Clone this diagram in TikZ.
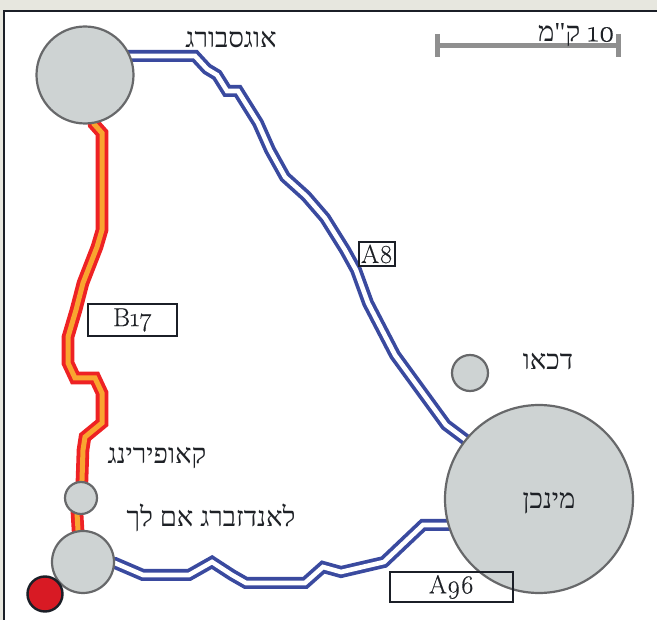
\documentclass[tikz,border=0pt]{standalone}
\usepackage{fontspec}
\setmainfont[Numbers=OldStyle,FakeBold=0.25]{Latin Modern Roman}
\newfontfamily\lat[Numbers=OldStyle,FakeBold=0.25]{Latin Modern Roman}
\newfontfamily\heb[Script=Hebrew]{Liberation Serif}
\TeXXeTstate=1
\definecolor{beige}{HTML}{E7E7DF}
\definecolor{framec}{HTML}{1B1F27}
\definecolor{city}{HTML}{CED3D3}
\definecolor{cityline}{HTML}{67686A}
\definecolor{roadblue}{HTML}{3A4A9F}
\definecolor{roadred}{HTML}{EE2224}
\definecolor{roadorange}{HTML}{F9A530}
\definecolor{barg}{HTML}{8F8F8F}
\definecolor{txt}{HTML}{1E2126}
\definecolor{mark}{HTML}{D81A24}
\tikzset{
  citynode/.style={circle,draw=cityline,fill=city,line width=2.2pt,inner sep=0pt,minimum size=#1},
  autobahn/.style={draw=roadblue,line width=3.7pt,double=white,double distance=4.6pt,line join=miter},
  bundes/.style={draw=roadred,line width=3.8pt,double=roadorange,double distance=5pt,line join=miter},
  heblabel/.style={text=txt,inner sep=0pt,font=\heb\fontsize{27.5}{27.5}\selectfont},
  roadbox/.style={draw=framec,line width=1.4pt,inner sep=0pt,text=txt,font=\fontsize{26}{26}\selectfont},
  scalebar/.style={draw=barg,line width=5pt}
}
\begin{document}
\begin{tikzpicture}[x=1pt,y=-1pt]
\useasboundingbox (0,0) rectangle (657,620);
\fill[beige] (0,0) rectangle (657,620);
\fill[white] (4,11) rectangle (657,620);
\draw[framec,line width=2.2pt] (4,620) -- (4,11) -- (657,11);
\coordinate (caug) at (85,75);
\coordinate (ckau) at (81,498);
\coordinate (clan) at (83,562);
\coordinate (cmun) at (539,499);
% roads
\draw[bundes] (caug) -- (94,124) -- (102,133) -- (102,230) -- (97,247) -- (83,283) -- (76,310) -- (68,337) -- (68,363) -- (75,378) -- (95,378) -- (102,393) -- (102,423) -- (85,437) -- (83,450) -- (82,480) -- (ckau) -- (77,513) -- (78,530) -- (clan);
\draw[autobahn] (caug) -- (125,56) -- (195,56) -- (207,69) -- (217,75) -- (227,91) -- (238,91) -- (258,123) -- (270,150) -- (285,177) -- (306,196) -- (325,218) -- (345,250) -- (356,270) -- (368,303) -- (395,355) -- (446,425) -- (466,440) -- (cmun);
\draw[autobahn] (clan) -- (115,563) -- (143,575) -- (189,575) -- (212,562) -- (232,575) -- (246,583) -- (305,583) -- (323,567) -- (341,572) -- (384,562) -- (423,525) -- (455,525) -- (cmun);
% cities
\node[citynode=97pt] (augsburg) at (caug) {};
\node[citynode=32pt] (kaufering) at (ckau) {};
\node[citynode=62pt] (landsberg) at (clan) {};
\node[citynode=36pt] (dachau) at (470,373) {};
\node[citynode=188pt] (munich) at (cmun) {};
\node[circle,draw=framec,fill=mark,line width=2.4pt,minimum size=35pt,inner sep=0pt] (here) at (45,594) {};
% labels
\node[heblabel] (laug) at (231,40) {\beginR אוגסבורג\endR};
\node[heblabel] (lkau) at (157,458) {\beginR קאופירינג\endR};
\node[heblabel] (llan) at (211,518) {\beginR לאנדזברג אם לך\endR};
\node[heblabel] (ldac) at (548,362) {\beginR דכאו\endR};
\node[heblabel] (lmun) at (549,503) {\beginR מינכן\endR};
% road boxes
\node[roadbox,minimum width=89pt,minimum height=32pt] (b17) at (132.5,320) {B17};
\node[roadbox,minimum width=36pt,minimum height=24pt] (a8) at (377,254) {A8};
\node[roadbox,minimum width=123pt,minimum height=30pt] (a96) at (451.5,587) {A96};
% scale
\coordinate (sl) at (437,46);
\coordinate (sr) at (618,46);
\draw[scalebar] (sl) -- (sr);
\draw[scalebar] (437,34) -- (437,57);
\draw[scalebar] (618,34) -- (618,57);
\node[heblabel,anchor=base east] (scale) at (615,41.5) {\beginR\beginL{\lat\fontsize{31}{31}\selectfont 10}\endL{} ק"מ\endR};
\end{tikzpicture}
\end{document}
